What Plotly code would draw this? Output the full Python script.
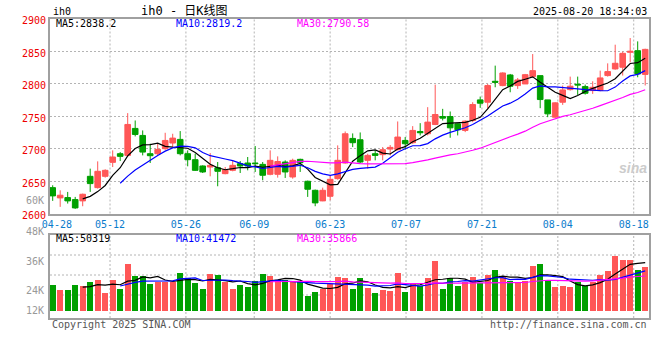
import plotly.graph_objects as go

# ---------------- data ----------------
dates = ["04-25", "04-28", "04-29", "04-30",
         "05-06", "05-07", "05-08", "05-09", "05-12", "05-13", "05-14", "05-15", "05-16",
         "05-19", "05-20", "05-21", "05-22", "05-23", "05-26", "05-27", "05-28", "05-29", "05-30",
         "06-03", "06-04", "06-05", "06-06", "06-09", "06-10", "06-11", "06-12", "06-13",
         "06-16", "06-17", "06-18", "06-19", "06-20", "06-23", "06-24", "06-25", "06-26", "06-27",
         "06-30", "07-01", "07-02", "07-03", "07-04", "07-07", "07-08", "07-09", "07-10", "07-11",
         "07-14", "07-15", "07-16", "07-17", "07-18", "07-21", "07-22", "07-23", "07-24", "07-25",
         "07-28", "07-29", "07-30", "07-31", "08-01", "08-04", "08-05", "08-06", "08-07", "08-08",
         "08-11", "08-12", "08-13", "08-14", "08-15", "08-18", "08-19", "08-20"]

opens = [2639.8, 2624.0, 2624.5, 2621.4, 2619.4, 2657.2, 2639.8, 2657.2, 2678.7, 2692.0,
         2689.4, 2730.9, 2720.1, 2692.0, 2692.0, 2699.7, 2708.4, 2714.0, 2692.0, 2682.8,
         2673.1, 2671.5, 2670.5, 2661.3, 2666.4, 2676.7, 2677.7, 2677.7, 2675.6, 2660.3,
         2660.3, 2679.2, 2656.2, 2683.3, 2649.6, 2635.7, 2619.4, 2626.5, 2653.6, 2677.7,
         2715.5, 2713.5, 2681.8, 2692.0, 2690.5, 2699.1, 2698.1, 2712.4, 2708.9, 2726.2,
         2722.7, 2737.0, 2749.2, 2749.2, 2738.0, 2727.8, 2743.1, 2774.8, 2771.2, 2803.4,
         2796.8, 2813.1, 2796.8, 2799.3, 2810.6, 2812.1, 2774.8, 2748.2, 2771.2, 2790.6,
         2798.8, 2795.2, 2789.1, 2789.2, 2812.2, 2822.4, 2825.0, 2848.0, 2850.5, 2814.0]

highs = [2643.4, 2635.7, 2633.2, 2625.5, 2630.6, 2669.0, 2680.2, 2668.0, 2697.1, 2694.5,
         2754.4, 2743.1, 2727.8, 2707.3, 2707.3, 2724.2, 2722.7, 2726.8, 2697.1, 2692.0,
         2674.1, 2693.0, 2679.2, 2671.5, 2681.8, 2680.7, 2686.9, 2703.8, 2679.2, 2697.1,
         2687.9, 2681.8, 2684.3, 2684.3, 2650.6, 2636.8, 2639.8, 2657.7, 2704.8, 2726.2,
         2723.2, 2724.7, 2692.0, 2697.1, 2702.2, 2705.3, 2741.6, 2717.6, 2734.4, 2739.0,
         2763.6, 2798.3, 2761.0, 2756.9, 2738.5, 2743.1, 2771.2, 2779.9, 2799.3, 2827.5,
         2817.2, 2814.7, 2808.5, 2814.7, 2845.3, 2812.1, 2774.8, 2771.2, 2796.8, 2810.6,
         2810.6, 2798.3, 2803.4, 2819.8, 2831.0, 2859.7, 2849.0, 2869.9, 2864.8, 2853.5]

lows = [2619.4, 2610.2, 2615.3, 2607.1, 2611.2, 2633.2, 2638.3, 2655.2, 2671.5, 2680.7,
        2686.9, 2718.6, 2689.4, 2677.7, 2689.4, 2698.1, 2702.2, 2689.4, 2672.6, 2665.4,
        2662.3, 2657.2, 2641.9, 2660.3, 2664.9, 2662.3, 2666.4, 2663.9, 2651.1, 2658.8,
        2655.2, 2654.7, 2653.6, 2663.9, 2625.5, 2611.2, 2618.9, 2620.4, 2652.1, 2676.7,
        2702.2, 2677.7, 2669.0, 2681.8, 2681.8, 2689.4, 2697.1, 2698.1, 2707.3, 2720.1,
        2720.1, 2735.9, 2743.1, 2716.5, 2720.1, 2725.2, 2740.5, 2762.5, 2761.0, 2794.2,
        2795.8, 2786.5, 2791.7, 2799.3, 2809.6, 2762.0, 2748.2, 2747.2, 2767.1, 2789.1,
        2782.5, 2783.0, 2784.0, 2788.1, 2810.6, 2821.3, 2812.2, 2832.6, 2809.6, 2797.0]

closes = [2627.1, 2628.1, 2619.4, 2608.6, 2629.6, 2646.0, 2664.9, 2666.4, 2686.9, 2687.9,
          2737.0, 2721.6, 2694.5, 2688.9, 2698.6, 2712.4, 2716.0, 2692.0, 2682.8, 2666.4,
          2663.9, 2674.1, 2664.9, 2667.5, 2674.1, 2673.1, 2673.1, 2676.7, 2658.8, 2681.8,
          2680.0, 2663.9, 2681.8, 2678.2, 2637.3, 2616.3, 2635.7, 2652.6, 2681.8, 2722.7,
          2708.9, 2679.2, 2689.4, 2689.4, 2698.1, 2701.7, 2717.6, 2707.3, 2727.8, 2724.2,
          2740.6, 2752.3, 2746.7, 2731.8, 2728.8, 2742.1, 2767.6, 2769.7, 2796.8, 2801.9,
          2816.2, 2795.8, 2805.5, 2813.6, 2819.8, 2775.3, 2753.3, 2770.2, 2790.1, 2795.8,
          2797.8, 2785.0, 2794.2, 2808.6, 2818.3, 2831.1, 2846.4, 2849.5, 2814.7, 2852.5]

# volume in thousands (K)
volumes = [24.3, 22.0, 22.0, 24.3, 23.8, 25.7, 26.7, 20.7, 26.7, 22.4,
           34.3, 28.6, 28.6, 24.8, 25.7, 25.7, 25.6, 30.1, 27.6, 25.4,
           22.4, 29.5, 29.1, 25.7, 22.4, 24.3, 23.2, 26.1, 29.5, 28.6,
           26.2, 26.7, 25.9, 25.7, 19.1, 21.2, 22.3, 25.0, 28.3, 27.8,
           22.4, 27.6, 23.1, 20.7, 22.0, 21.6, 30.1, 21.2, 25.4, 23.8,
           27.8, 35.8, 22.4, 27.8, 23.8, 25.6, 28.3, 25.4, 29.1, 31.4,
           28.3, 26.2, 25.4, 26.2, 33.3, 34.3, 26.7, 23.2, 23.8, 23.2,
           25.6, 23.8, 25.6, 29.1, 31.0, 38.1, 36.2, 36.2, 31.4, 32.7]

tick_dates = ["04-28", "05-12", "05-26", "06-09", "06-23", "07-07", "07-21", "08-04", "08-18"]
price_ticks = [2600, 2650, 2700, 2750, 2800, 2850, 2900]
vol_tick_labels = ["48K", "36K", "24K", "12K"]
VOL_BASE = 12.0

header_title = "ih0 - 日K线图"
header_time = "2025-08-20 18:34:03"
price_ma_text = ["MA5:2838.2", "MA10:2819.2", "MA30:2790.58"]
vol_ma_text = ["MA5:50319", "MA10:41472", "MA30:35866"]

# ---------------- styling ----------------
RED = "#ff5757"
GREEN = "#00a000"
BLUE_TXT = "#0a7ccc"
GRID = "#b4b4b4"
BORDER = "#a0a0a0"
MONO = "DejaVu Sans Mono, Noto Sans CJK SC"
W, H = 660, 360

def px_x(p):
    return p / W

def px_y(p):
    return 1 - p / H

PLOT_L, PLOT_R = 50, 649.3
P_TOP, P_BOT = 18.5, 213.5
V_TOP, V_BOT = 235, 318

idx = list(range(len(dates)))
XR = [(PLOT_L - 52.7) / 7.5, (PLOT_R - 52.7) / 7.5]
tick_pos = [dates.index(d) * 1.012 - 0.453 for d in tick_dates]


def ma(vals, n):
    return [sum(vals[i - n + 1:i + 1]) / n if i >= n - 1 else None for i in range(len(vals))]


fig = go.Figure()

fig.add_trace(go.Candlestick(
    x=idx, open=opens, high=highs, low=lows, close=closes,
    increasing=dict(line=dict(color=RED, width=1), fillcolor=RED),
    decreasing=dict(line=dict(color=GREEN, width=1), fillcolor=GREEN),
    whiskerwidth=0, xaxis="x", yaxis="y", hoverinfo="skip", showlegend=False))

for n, col in [(5, "#000000"), (10, "#0000ff"), (30, "#ff00ff")]:
    fig.add_trace(go.Scatter(x=idx, y=ma(closes, n), mode="lines",
                             line=dict(color=col, width=1.2), xaxis="x", yaxis="y",
                             hoverinfo="skip", showlegend=False))

vcolors = [RED if c >= o else GREEN for o, c in zip(opens, closes)]
fig.add_trace(go.Bar(x=idx, y=[v - VOL_BASE for v in volumes], base=VOL_BASE,
                     marker=dict(color=vcolors, line=dict(width=0)), width=0.76,
                     xaxis="x2", yaxis="y2", hoverinfo="skip", showlegend=False))

for n, col in [(5, "#000000"), (10, "#0000ff"), (30, "#ff00ff")]:
    fig.add_trace(go.Scatter(x=idx, y=ma(volumes, n), mode="lines",
                             line=dict(color=col, width=1.2), xaxis="x2", yaxis="y2",
                             hoverinfo="skip", showlegend=False))

shapes = []
for tp in tick_pos[1:]:
    for yr in ("y domain", "y2 domain"):
        shapes.append(dict(type="line", xref="x", yref=yr, x0=tp, x1=tp, y0=0, y1=1,
                           line=dict(color=GRID, width=1, dash="2px,2px"), layer="below"))
for gy in (255, 275, 295):
    frac = (V_BOT - gy) / (V_BOT - V_TOP)
    shapes.append(dict(type="line", xref="x2 domain", yref="y2 domain", x0=0, x1=1, y0=frac, y1=frac,
                       line=dict(color=GRID, width=1, dash="2px,2px"), layer="below"))

annotations = []


def ann(text, x, y, color, xanchor="left", size=10, family=MONO, **kw):
    annotations.append(dict(text=text, x=px_x(x), y=px_y(y), xref="paper", yref="paper",
                            xanchor=xanchor, yanchor="middle", showarrow=False,
                            font=dict(family=family, size=size, color=color), **kw))


ann("ih0", 51, 12, "#000000")
ann(header_title, 185, 11, "#000000", xanchor="center", size=12)
ann(header_time, 649, 12, "#000000", xanchor="right")
ann(price_ma_text[0], 54, 24, "#000000")
ann(price_ma_text[1], 174, 24, "#0000ff")
ann(price_ma_text[2], 295, 24, "#ff00ff")
ann(vol_ma_text[0], 54, 238, "#000000")
ann(vol_ma_text[1], 174, 238, "#0000ff")
ann(vol_ma_text[2], 295, 238, "#ff00ff")
for lbl, yy in zip(vol_tick_labels, (231, 261, 290, 310)):
    ann(lbl, 46, yy, "#999999", xanchor="right")
ann("60K", 46, 200, "#999999", xanchor="right")
ann("Copyright 2025 SINA.COM", 50, 324, "#555555")
ann("http://finance.sina.com.cn", 649, 324, "#555555", xanchor="right")
ann("<b><i>sina</i></b>", 633, 168, "#cccccc", xanchor="center", size=14, family="Liberation Sans")

fig.update_layout(
    width=W, height=H, margin=dict(l=0, r=0, t=0, b=0, pad=0, autoexpand=False),
    paper_bgcolor="white", plot_bgcolor="white", showlegend=False,
    boxgap=0.25, boxgroupgap=0, bargap=0,
    xaxis=dict(domain=[px_x(PLOT_L), px_x(PLOT_R)], range=XR, anchor="y", automargin=False,
               rangeslider=dict(visible=False), showgrid=False, zeroline=False,
               tickmode="array", tickvals=tick_pos, ticktext=tick_dates, ticks="",
               tickfont=dict(family=MONO, size=10, color=BLUE_TXT),
               showline=True, mirror=True, linecolor=BORDER, linewidth=2),
    yaxis=dict(domain=[px_y(P_BOT), px_y(P_TOP)], range=[2600, 2900], anchor="x", automargin=False,
               tickmode="array", tickvals=price_ticks, ticks="", ticklabelshift=2,
               tickfont=dict(family=MONO, size=10, color="#ee0000"),
               showgrid=True, gridcolor=GRID, griddash="2px,2px", gridwidth=1, zeroline=False,
               showline=True, mirror=True, linecolor=BORDER, linewidth=2),
    xaxis2=dict(domain=[px_x(PLOT_L), px_x(PLOT_R)], range=XR, anchor="y2", automargin=False,
                showgrid=False, zeroline=False, showticklabels=False, ticks="",
                showline=True, mirror=True, linecolor=BORDER, linewidth=2),
    yaxis2=dict(domain=[px_y(V_BOT), px_y(V_TOP)], range=[VOL_BASE - 7 / 2.111, 48], anchor="x2",
                automargin=False,
                showgrid=False, zeroline=False, showticklabels=False, ticks="",
                showline=True, mirror=True, linecolor=BORDER, linewidth=2),
    shapes=shapes, annotations=annotations,
)

fig.write_html("out.html", config={"displayModeBar": False},
               post_script="document.body.style.margin='0';document.body.style.overflow='hidden';")
